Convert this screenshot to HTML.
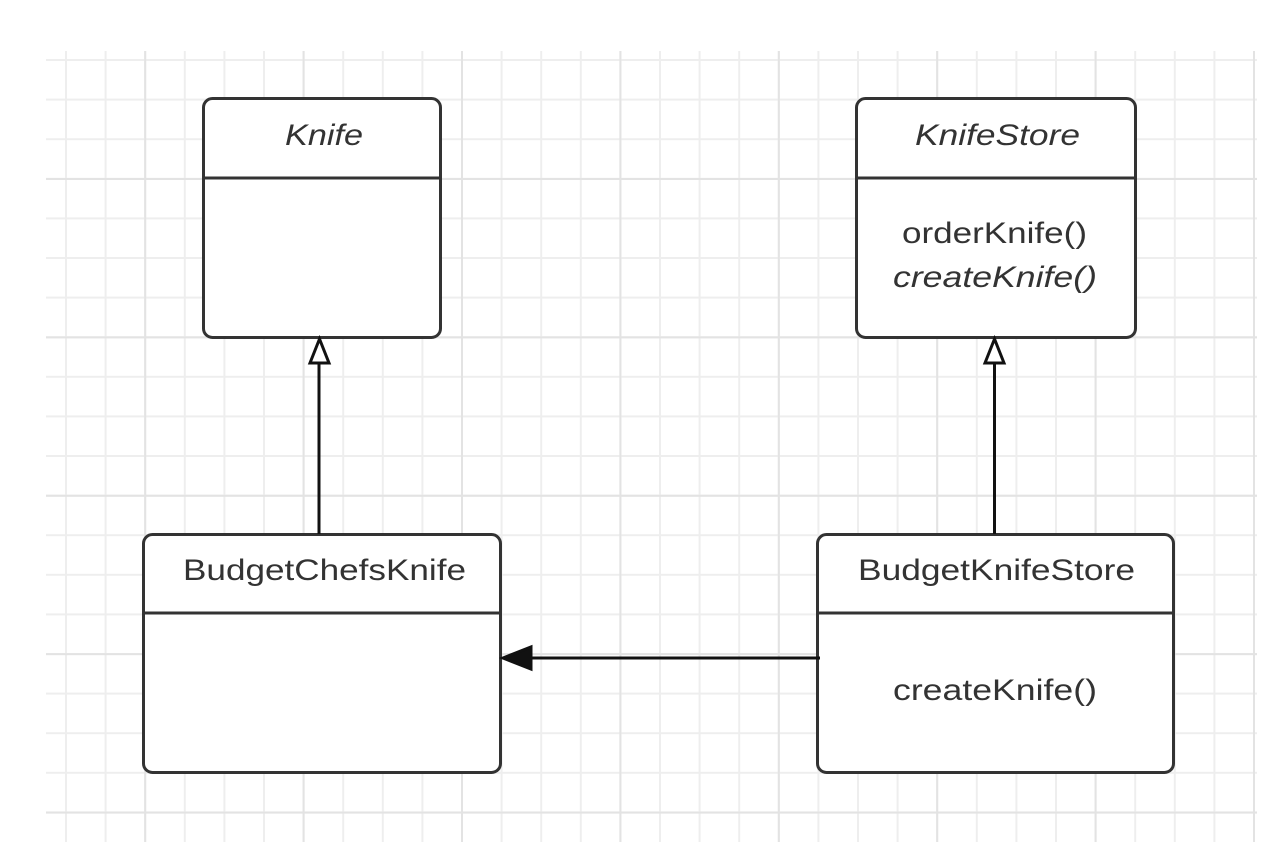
<!DOCTYPE html>
<html><head><meta charset="utf-8"><style>
html,body{margin:0;padding:0;background:#fff;}
svg{display:block;}
text{font-family:"Liberation Sans",Arial,sans-serif;fill:#333;font-size:30px;}
</style></head><body>
<svg width="1270" height="858" viewBox="0 0 1270 858" xmlns="http://www.w3.org/2000/svg">
<defs>
<pattern id="minor" patternUnits="userSpaceOnUse" x="65" y="59" width="39.6" height="39.6">
<rect x="0" y="0" width="2" height="39.6" fill="#eeeeee"/>
<rect x="0" y="0" width="39.6" height="2" fill="#eeeeee"/>
</pattern>
<pattern id="major" patternUnits="userSpaceOnUse" x="144.2" y="178" width="158.4" height="158.4">
<rect x="0" y="0" width="2" height="158.4" fill="#e3e3e3"/>
<rect x="0" y="0" width="158.4" height="2" fill="#e3e3e3"/>
</pattern>
</defs>
<rect x="46" y="51" width="1211" height="791" fill="url(#minor)"/>
<rect x="46" y="51" width="1211" height="791" fill="url(#major)"/>

<g fill="#fff" stroke="#333" stroke-width="3">
<rect x="203.5" y="98.5" width="237" height="239" rx="9"/>
<line x1="203" y1="178" x2="440" y2="178"/>
<rect x="856.5" y="98.5" width="279" height="239" rx="9"/>
<line x1="856" y1="178" x2="1135" y2="178"/>
<rect x="143.5" y="534.5" width="357" height="238" rx="9"/>
<line x1="143" y1="613" x2="500" y2="613"/>
<rect x="817.5" y="534.5" width="356" height="238" rx="9"/>
<line x1="817" y1="613" x2="1173" y2="613"/>
</g>

<g stroke="#111" stroke-width="3" fill="#fff">
<line x1="319" y1="363" x2="319" y2="534"/>
<polygon points="319.5,339 310,363 329,363"/>
<line x1="994.5" y1="363" x2="994.5" y2="534"/>
<polygon points="994.5,339 985,363 1004,363"/>
<line x1="530" y1="658" x2="820" y2="658"/>
<polygon points="503,658 531,647 531,669" fill="#111"/>
</g>

<text x="285" y="145" font-style="italic" textLength="78" lengthAdjust="spacingAndGlyphs">Knife</text>
<text x="915" y="145" font-style="italic" textLength="165" lengthAdjust="spacingAndGlyphs">KnifeStore</text>
<text x="902" y="243" textLength="185" lengthAdjust="spacingAndGlyphs">orderKnife()</text>
<text x="893" y="287" font-style="italic" textLength="204" lengthAdjust="spacingAndGlyphs">createKnife()</text>
<text x="183" y="580" textLength="283" lengthAdjust="spacingAndGlyphs">BudgetChefsKnife</text>
<text x="858" y="580" textLength="277" lengthAdjust="spacingAndGlyphs">BudgetKnifeStore</text>
<text x="893" y="700" textLength="204" lengthAdjust="spacingAndGlyphs">createKnife()</text>
</svg>
</body></html>
